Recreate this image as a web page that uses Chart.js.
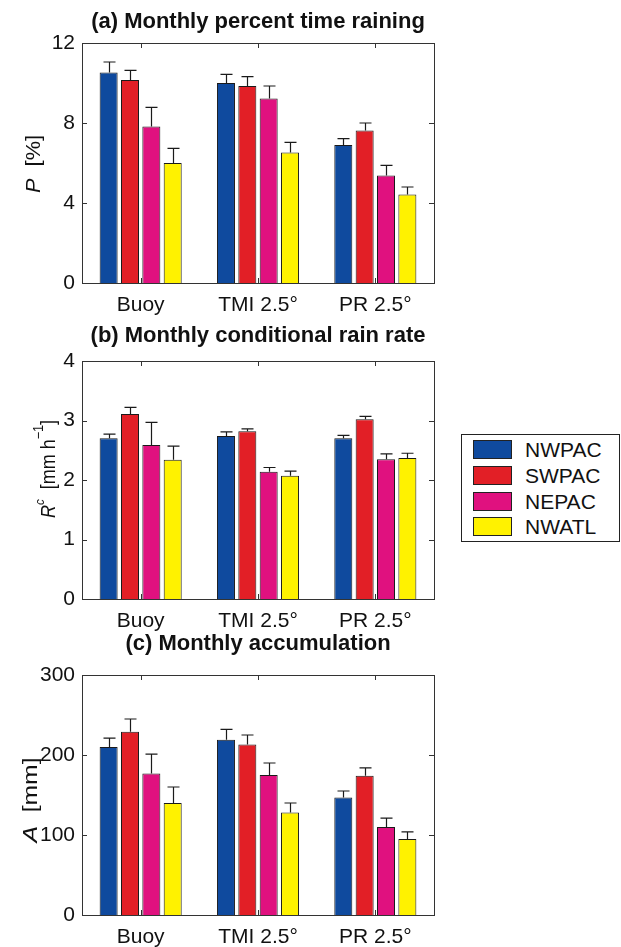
<!DOCTYPE html>
<html>
<head>
<meta charset="utf-8">
<script src="https://cdn.jsdelivr.net/npm/chart.js@4.4.1/dist/chart.umd.min.js"></script>
<style>
  html, body { margin: 0; padding: 0; background: #fff; }
  #wrap { position: relative; width: 621px; height: 947px; overflow: hidden; font-family: "Liberation Sans", Arial, sans-serif; color: #111; }
  canvas { position: absolute; left: 0; }
  #legend { position: absolute; left: 461px; top: 434px; width: 159px; height: 108px; border: 1px solid #222; box-sizing: border-box; background: #fff; }
  .row { position: absolute; left: 11px; height: 19px; line-height: 19px; font-size: 21px; white-space: nowrap; }
  .sw { display: inline-block; width: 39px; height: 19px; box-sizing: border-box; border: 1px solid #222; vertical-align: top; margin-right: 13px; }
</style>
</head>
<body>
<div id="wrap">
  <canvas id="panelA" width="440" height="330" style="top:0px"></canvas>
  <canvas id="panelB" width="440" height="330" style="top:310px"></canvas>
  <canvas id="panelC" width="440" height="327" style="top:620px"></canvas>
  <div id="legend"></div>
</div>
<script>
(function() {
  'use strict';

  var categories = ['Buoy', 'TMI 2.5°', 'PR 2.5°'];
  var regions = ['NWPAC', 'SWPAC', 'NEPAC', 'NWATL'];
  var regionColors = ['#0f4a9e', '#e21f26', '#e0117f', '#fff200'];

  // rows follow regions, columns follow categories
  var pctTime = [[10.53, 10.0, 6.9], [10.15, 9.85, 7.62], [7.83, 9.22, 5.37], [6.0, 6.53, 4.42]];
  var pctTimeErr = [[0.52, 0.43, 0.32], [0.48, 0.47, 0.38], [0.95, 0.63, 0.51], [0.73, 0.5, 0.38]];
  var pctTicks = [0, 4, 8, 12];

  var rainRate = [[2.70, 2.74, 2.70], [3.11, 2.82, 3.02], [2.59, 2.14, 2.35], [2.34, 2.07, 2.37]];
  var rainRateErr = [[0.07, 0.07, 0.05], [0.11, 0.04, 0.05], [0.38, 0.07, 0.09], [0.23, 0.08, 0.08]];
  var rateTicks = [0, 1, 2, 3, 4];

  var accum = [[210, 219, 147], [229, 213, 174], [177, 175, 110], [140, 128, 95]];
  var accumErr = [[11, 13, 8], [16, 12, 10], [24, 15, 11], [20, 12, 9]];
  var accumTicks = [0, 100, 200, 300];

  var FONT = '"Liberation Sans", Arial, sans-serif';
  var INK = '#1a1a1a';

  // rotated axis title, squeezed or stretched along its length to fit len
  function drawPieces(ctx, pieces, len) {
    var total = 0;
    pieces.forEach(function(p) {
      ctx.font = p.font;
      p.w = ctx.measureText(p.text).width;
      total += p.w;
    });
    ctx.scale(len / total, 1);
    var x = -total / 2;
    pieces.forEach(function(p) {
      ctx.font = p.font;
      ctx.fillText(p.text, x, p.dy || 0);
      x += p.w;
    });
  }

  function decorPlugin(cfg) {
    return {
      id: 'decor',
      afterDatasetsDraw: function(chart) {
        var ctx = chart.ctx;
        var y = chart.scales.y;
        ctx.save();
        ctx.strokeStyle = INK;
        ctx.lineWidth = 1.2;
        chart.data.datasets.forEach(function(ds, i) {
          var meta = chart.getDatasetMeta(i);
          meta.data.forEach(function(bar, j) {
            var top = y.getPixelForValue(ds.data[j] + ds.errors[j]);
            var x = Math.round(bar.x) + 0.5;
            ctx.beginPath();
            ctx.moveTo(x, bar.y);
            ctx.lineTo(x, top);
            ctx.moveTo(x - 6, top);
            ctx.lineTo(x + 6, top);
            ctx.stroke();
          });
        });
        ctx.restore();
      },
      afterDraw: function(chart) {
        var ctx = chart.ctx;
        var a = chart.chartArea;
        var xs = chart.scales.x;
        var ys = chart.scales.y;
        ctx.save();
        ctx.strokeStyle = '#333';
        ctx.lineWidth = 1;
        ctx.strokeRect(Math.round(a.left) + 0.5, Math.round(a.top) + 0.5, Math.round(a.right - a.left), Math.round(a.bottom - a.top));
        ctx.beginPath();
        ys.ticks.forEach(function(t) {
          var py = Math.round(ys.getPixelForValue(t.value)) + 0.5;
          ctx.moveTo(a.left, py); ctx.lineTo(a.left + 5, py);
          ctx.moveTo(a.right - 5, py); ctx.lineTo(a.right, py);
        });
        categories.forEach(function(c, j) {
          var px = Math.round(xs.getPixelForValue(j)) + 0.5;
          ctx.moveTo(px, a.top); ctx.lineTo(px, a.top + 5);
          ctx.moveTo(px, a.bottom); ctx.lineTo(px, a.bottom - 5);
        });
        ctx.stroke();

        ctx.fillStyle = '#111';
        ctx.textAlign = 'center';
        ctx.textBaseline = 'alphabetic';
        ctx.font = 'bold 22px ' + FONT;
        ctx.fillText(cfg.title, (a.left + a.right) / 2, cfg.titleY);

        ctx.translate(cfg.yTitleX, cfg.yTitleY);
        ctx.rotate(-Math.PI / 2);
        ctx.textAlign = 'left';
        drawPieces(ctx, cfg.yTitle, cfg.yTitleLen);
        ctx.restore();
      }
    };
  }

  function makePanel(id, cfg) {
    return new Chart(document.getElementById(id), {
      type: 'bar',
      data: {
        labels: categories,
        datasets: regions.map(function(name, i) {
          return {
            label: name,
            data: cfg.values[i],
            errors: cfg.errors[i],
            backgroundColor: regionColors[i],
            borderColor: INK,
            borderWidth: 1,
            categoryPercentage: 0.728,
            barPercentage: 0.843
          };
        })
      },
      options: {
        responsive: false,
        animation: false,
        devicePixelRatio: 1,
        layout: { padding: { top: cfg.padTop, right: 6, left: 0, bottom: 0 } },
        plugins: { legend: { display: false }, tooltip: { enabled: false } },
        scales: {
          x: {
            offset: true,
            grid: { display: false, drawTicks: false },
            border: { display: false },
            ticks: { color: '#111', font: { family: FONT, size: 21 }, padding: 10, maxRotation: 0 },
            afterFit: function(s) { s.height = cfg.xHeight; }
          },
          y: {
            min: cfg.ticks[0],
            max: cfg.ticks[cfg.ticks.length - 1],
            grid: { display: false, drawTicks: false },
            border: { display: false },
            ticks: { color: '#111', font: { family: FONT, size: 21 }, padding: 7 },
            afterBuildTicks: function(s) { s.ticks = cfg.ticks.map(function(v) { return { value: v }; }); },
            afterFit: function(s) { s.width = 82; }
          }
        }
      },
      plugins: [decorPlugin(cfg)]
    });
  }

  var normal = '20px ' + FONT;
  var italic = 'italic 20px ' + FONT;
  var supFont = '14px ' + FONT;
  var supItalic = 'italic 13px ' + FONT;

  makePanel('panelA', {
    values: pctTime, errors: pctTimeErr, ticks: pctTicks,
    padTop: 43, xHeight: 47,
    title: '(a) Monthly percent time raining', titleY: 28,
    yTitleX: 40, yTitleY: 164, yTitleLen: 58,
    yTitle: [{ text: 'P', font: italic }, { text: '  [%]', font: normal }]
  });

  makePanel('panelB', {
    values: rainRate, errors: rainRateErr, ticks: rateTicks,
    padTop: 51, xHeight: 41,
    title: '(b) Monthly conditional rain rate', titleY: 32,
    yTitleX: 55, yTitleY: 159, yTitleLen: 98,
    yTitle: [
      { text: 'R', font: italic },
      { text: 'c', font: supItalic, dy: -11 },
      { text: '  [mm h', font: normal },
      { text: '\u22121', font: supFont, dy: -12 },
      { text: ']', font: normal }
    ]
  });

  makePanel('panelC', {
    values: accum, errors: accumErr, ticks: accumTicks,
    padTop: 55, xHeight: 32,
    title: '(c) Monthly accumulation', titleY: 30,
    yTitleX: 37, yTitleY: 180, yTitleLen: 85,
    yTitle: [{ text: 'A', font: italic }, { text: '  [mm]', font: normal }]
  });

  var legend = document.getElementById('legend');
  var rowTops = [5, 31, 57, 82];
  regions.forEach(function(name, i) {
    var row = document.createElement('div');
    row.className = 'row';
    row.style.top = rowTops[i] + 'px';
    row.innerHTML = '<span class="sw" style="background:' + regionColors[i] + '"></span>' + name;
    legend.appendChild(row);
  });
})();
</script>
</body>
</html>
